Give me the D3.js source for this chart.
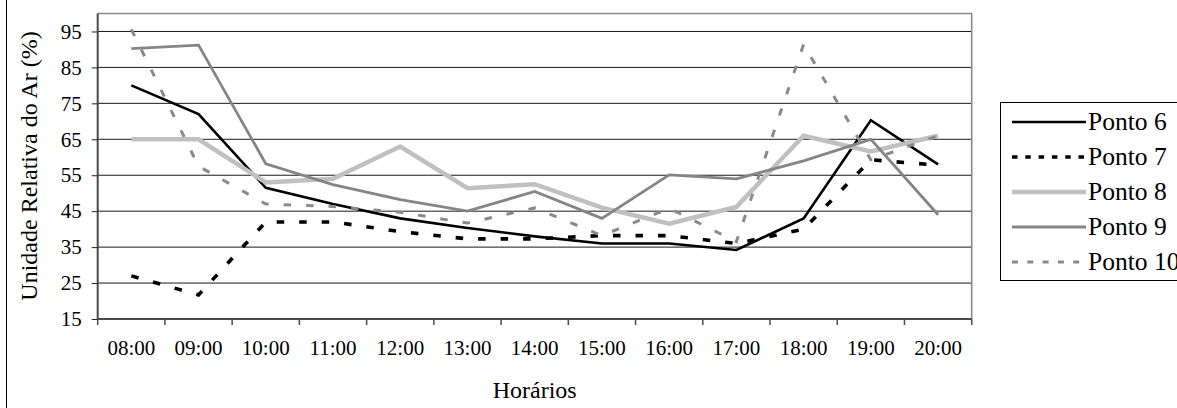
<!DOCTYPE html>
<html>
<head>
<meta charset="utf-8">
<script src="https://cdn.jsdelivr.net/npm/d3@7"></script>
<style>
  body { margin: 0; background: #fff; }
  text { font-family: "Liberation Serif", "Times New Roman", "DejaVu Serif", serif; fill: #000; }
  .tick-label { font-size: 21px; }
  .axis-title { font-size: 24px; }
  .legend-text { font-size: 25.5px; }
</style>
</head>
<body>
<svg id="chart"></svg>
<script>
// horários
const hours = ['08:00', '09:00', '10:00', '11:00', '12:00', '13:00', '14:00',
  '15:00', '16:00', '17:00', '18:00', '19:00', '20:00'];

// umidade relativa do ar (%) por ponto
const ponto6 = [80, 72, 51.5, 47, 43, 40.3, 38, 36, 36, 34.2, 43, 70.3, 58];
const ponto7 = [27, 21.7, 42, 42, 39.3, 37.3, 37.3, 38.2, 38.2, 36, 40, 59.3, 57.8];
const ponto8 = [65, 65, 53, 54, 63, 51.4, 52.5, 46, 41.5, 46.2, 66, 61.6, 66];
const ponto9 = [90.2, 91.2, 58.2, 52.4, 48.2, 45, 50.5, 43, 55.1, 54, 59, 65, 44];
const ponto10 = [95.6, 57.5, 47, 46.3, 44.7, 41.7, 45.9, 38.2, 45.8, 36.5, 91.4, 59.3, 66];

const seriesNames = ['Ponto 6', 'Ponto 7', 'Ponto 8', 'Ponto 9', 'Ponto 10'];
const yTicks = [15, 25, 35, 45, 55, 65, 75, 85, 95];

// dash = pattern in the plot, legendDash = pattern of the legend sample
const series = [
  {name: seriesNames[0], values: ponto6, color: '#000', width: 2.6, dash: null, legendDash: null},
  {name: seriesNames[1], values: ponto7, color: '#000', width: 3.6, dash: '7.5,15', legendDash: '5.5,7.8'},
  {name: seriesNames[2], values: ponto8, color: '#c0c0c0', width: 4.5, dash: null, legendDash: null},
  {name: seriesNames[3], values: ponto9, color: '#858585', width: 2.8, dash: null, legendDash: null},
  {name: seriesNames[4], values: ponto10, color: '#8a8a8a', width: 3, dash: '7.5,15', legendDash: '6,9.3'}
];

const width = 1177, height = 408;
const plot = {left: 97.7, right: 971.7, top: 13.5, bottom: 319};

const svg = d3.select('#chart')
    .attr('width', width)
    .attr('height', height);

// outer chart frame (only the left edge is visible)
svg.append('rect')
    .attr('x', 6.5)
    .attr('y', -2)
    .attr('width', 1400)
    .attr('height', height + 4)
    .attr('fill', 'none')
    .attr('stroke', '#000')
    .attr('stroke-width', 1);

const xScale = d3.scaleBand()
    .domain(hours)
    .range([plot.left, plot.right]);

const yScale = d3.scaleLinear()
    .domain([15, 100])
    .range([plot.bottom, plot.top]);

const xPos = h => xScale(h) + xScale.bandwidth() / 2;

// gridlines
svg.append('g')
  .selectAll('line')
    .data(yTicks.filter(d => d > 15))
  .join('line')
    .attr('x1', plot.left)
    .attr('x2', plot.right)
    .attr('y1', d => yScale(d))
    .attr('y2', d => yScale(d))
    .attr('stroke', '#1a1a1a')
    .attr('stroke-width', 1);

// top and right border of plot area
svg.append('path')
    .attr('d', `M${plot.left},${plot.top}H${plot.right}V${plot.bottom}`)
    .attr('fill', 'none')
    .attr('stroke', '#8a8a8a')
    .attr('stroke-width', 1.6);

// y axis
const yAxis = d3.axisLeft(yScale)
    .tickValues(yTicks)
    .tickSize(6)
    .tickPadding(10);

const yAxisG = svg.append('g')
    .attr('transform', `translate(${plot.left},0)`)
    .call(yAxis)
    .attr('font-family', null)
    .attr('font-size', null);
yAxisG.select('.domain')
    .attr('d', `M0,${plot.top}V${plot.bottom}`)
    .attr('stroke', '#4a4a4a')
    .attr('stroke-width', 2);
yAxisG.selectAll('.tick line').attr('stroke', '#222');
yAxisG.selectAll('.tick text')
    .attr('class', 'tick-label')
    .attr('fill', null);

// x axis: ticks on the category boundaries
const xAxisG = svg.append('g')
    .attr('transform', `translate(0,${plot.bottom})`);
xAxisG.append('line')
    .attr('x1', plot.left)
    .attr('x2', plot.right)
    .attr('stroke', '#4a4a4a')
    .attr('stroke-width', 2);
xAxisG.selectAll('.xtick')
    .data(hours.concat(['end']))
  .join('line')
    .attr('class', 'xtick')
    .attr('x1', (d, i) => i < hours.length ? xScale(d) : plot.right)
    .attr('x2', (d, i) => i < hours.length ? xScale(d) : plot.right)
    .attr('y1', 0)
    .attr('y2', 6)
    .attr('stroke', '#4a4a4a')
    .attr('stroke-width', 1.5);
xAxisG.selectAll('.tick-label')
    .data(hours)
  .join('text')
    .attr('class', 'tick-label')
    .attr('x', d => xPos(d))
    .attr('y', 36)
    .attr('text-anchor', 'middle')
    .text(d => d);

// axis titles
svg.append('text')
    .attr('class', 'axis-title')
    .attr('text-anchor', 'middle')
    .attr('transform', `translate(37,166) rotate(-90)`)
    .text('Unidade Relativa do Ar (%)');

svg.append('text')
    .attr('class', 'axis-title')
    .attr('text-anchor', 'middle')
    .attr('x', (plot.left + plot.right) / 2)
    .attr('y', 398)
    .text('Horários');

// lines
const line = d3.line()
    .x((d, i) => xPos(hours[i]))
    .y(d => yScale(d));

svg.append('g')
  .selectAll('path')
    .data(series)
  .join('path')
    .attr('d', d => line(d.values))
    .attr('fill', 'none')
    .attr('stroke', d => d.color)
    .attr('stroke-width', d => d.width)
    .attr('stroke-dasharray', d => d.dash)
    .attr('stroke-linejoin', 'miter');

// legend
const legend = svg.append('g');
legend.append('rect')
    .attr('x', 1000.5)
    .attr('y', 102.5)
    .attr('width', 300)
    .attr('height', 178)
    .attr('fill', '#fff')
    .attr('stroke', '#000')
    .attr('stroke-width', 1);

const entries = legend.selectAll('.entry')
    .data(series)
  .join('g')
    .attr('class', 'entry')
    .attr('transform', (d, i) => `translate(0,${122 + i * 35})`);

entries.append('line')
    .attr('x1', 1012)
    .attr('x2', 1086)
    .attr('stroke', d => d.color)
    .attr('stroke-width', d => d.width)
    .attr('stroke-dasharray', d => d.legendDash);

entries.append('text')
    .attr('class', 'legend-text')
    .attr('x', 1088)
    .attr('y', 7.5)
    .text(d => d.name);
</script>
</body>
</html>
